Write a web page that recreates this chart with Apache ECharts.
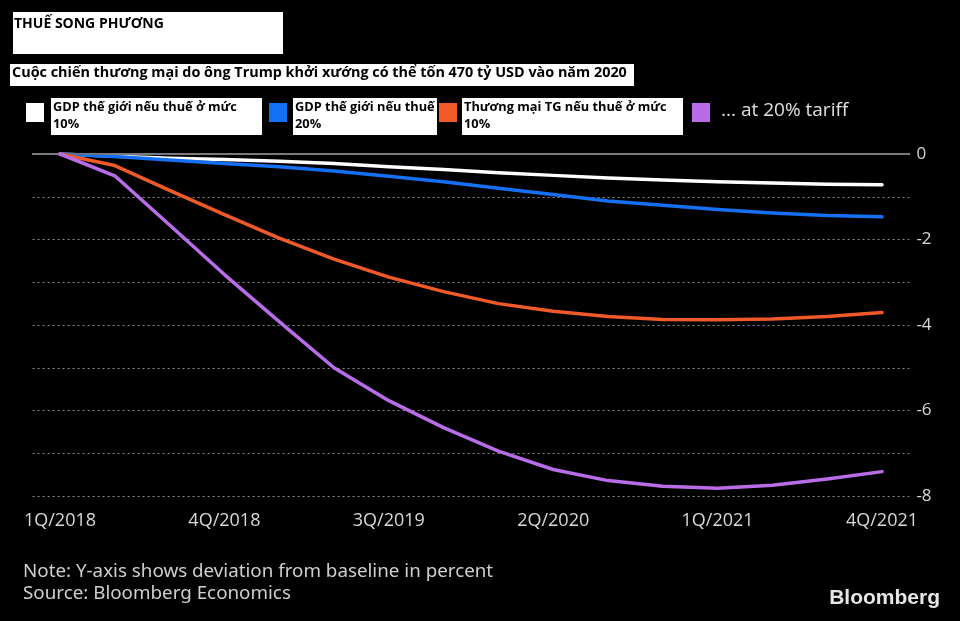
<!DOCTYPE html>
<html>
<head>
<meta charset="utf-8">
<script src="https://cdn.jsdelivr.net/npm/echarts@6/dist/echarts.min.js"></script>
<style>
html,body{margin:0;padding:0;background:#000;}
#chart{width:960px;height:621px;}
</style>
</head>
<body>
<div id="chart"></div>
<script>
const categories = ['1Q/2018','2Q/2018','3Q/2018','4Q/2018','1Q/2019','2Q/2019','3Q/2019','4Q/2019','1Q/2020','2Q/2020','3Q/2020','4Q/2020','1Q/2021','2Q/2021','3Q/2021','4Q/2021'];
const gdp10 = [0, -0.05, -0.1, -0.13, -0.17, -0.22, -0.3, -0.36, -0.44, -0.5, -0.56, -0.61, -0.65, -0.68, -0.71, -0.72];
const gdp20 = [0, -0.06, -0.14, -0.22, -0.3, -0.4, -0.52, -0.65, -0.8, -0.95, -1.1, -1.2, -1.3, -1.38, -1.44, -1.47];
const trade10 = [0, -0.27, -0.85, -1.42, -1.97, -2.46, -2.88, -3.22, -3.5, -3.68, -3.8, -3.87, -3.88, -3.86, -3.8, -3.71];
const trade20 = [0, -0.51, -1.66, -2.82, -3.92, -5.0, -5.77, -6.4, -6.95, -7.38, -7.64, -7.77, -7.82, -7.75, -7.6, -7.43];
const seriesNames = ['GDP thế giới nếu thuế ở mức\n10%', 'GDP thế giới nếu thuế\n20%', 'Thương mại TG nếu thuế ở mức\n10%', '... at 20% tariff'];
const colors = ['#ffffff', '#1470f5', '#f05a28', '#b96ce8'];
const yTicks = [0, -2, -4, -6, -8];
const titleText = 'THUẾ SONG PHƯƠNG';
const subtitleText = 'Cuộc chiến thương mại do ông Trump khởi xướng có thể tốn 470 tỷ USD vào năm 2020';
const noteText = 'Note: Y-axis shows deviation from baseline in percent';
const sourceText = 'Source: Bloomberg Economics';

const chart = echarts.init(document.getElementById('chart'));
const values = [gdp10, gdp20, trade10, trade20];

const boldFont = '"Open Sans", "Noto Sans", sans-serif';
const legendBoxes = [
  {sq: 26, bx: 51, bw: 211},
  {sq: 269, bx: 293, bw: 144},
  {sq: 439, bx: 462, bw: 221},
  {sq: 692, bx: null}
];
const graphic = [
  {type:'rect', left:13, top:12, shape:{width:270, height:42}, style:{fill:'#fff'}},
  {type:'text', left:14, top:17, style:{text:titleText, fill:'#000', font:'bold 14px ' + boldFont}},
  {type:'rect', left:10, top:64, shape:{width:624, height:22}, style:{fill:'#fff'}},
  {type:'text', left:12, top:66, style:{text:subtitleText, fill:'#000', font:'bold 14.4px ' + boldFont}},
  {type:'text', left:23, top:561, style:{text:noteText + '\n' + sourceText, fill:'#cfcfcf', font:'18.8px "Noto Sans", sans-serif', lineHeight:22}},
  {type:'text', right:20, top:588, style:{text:'Bloomberg', fill:'#e6e6e6', font:'bold 21px "Liberation Sans", Arial, sans-serif'}}
];
legendBoxes.forEach((b, i) => {
  graphic.push({type:'rect', left:b.sq, top:103, shape:{width:18, height:19}, style:{fill:colors[i]}});
  if (b.bx !== null) {
    graphic.push({type:'rect', left:b.bx, top:98, shape:{width:b.bw, height:37}, style:{fill:'#fff'}});
    graphic.push({type:'text', left:b.bx + 2, top:99, style:{text:seriesNames[i], fill:'#000', font:'bold 12.8px ' + boldFont, lineHeight:17}});
  } else {
    graphic.push({type:'text', left:721, top:101, style:{text:seriesNames[i], fill:'#e0e0e0', font:'19px "Open Sans", sans-serif'}});
  }
});

chart.setOption({
  backgroundColor:'#000',
  animation:false,
  grid:{left:32.6, right:50.6, top:154, height:342, containLabel:false},
  xAxis:{
    type:'category', data:categories, boundaryGap:true,
    axisLine:{lineStyle:{color:'#cccccc', width:1.5}},
    axisTick:{alignWithLabel:true, interval:2, length:7, lineStyle:{color:'#cccccc', width:1.5}},
    axisLabel:{interval:2, color:'#d8d8d8', fontSize:18, margin:16, fontFamily:'"Open Sans", sans-serif'},
    splitLine:{show:false}
  },
  yAxis:{
    type:'value', position:'right', min:-8, max:0, interval:1,
    axisLine:{show:false}, axisTick:{show:false},
    axisLabel:{color:'#d8d8d8', fontSize:17, margin:7, fontFamily:'"Open Sans", sans-serif',
      formatter:v => yTicks.includes(v) ? String(v) : ''},
    splitLine:{lineStyle:{color:'#8a8a8a', type:[2,3], width:1}}
  },
  graphic: graphic,
  series: values.map((d, i) => ({
    name: seriesNames[i], type:'line', data:d, smooth:false, symbol:'none',
    lineStyle:{color:colors[i], width:3.5, cap:'round', join:'round'},
    z: 3 + i,
    markLine: i === 0 ? {silent:true, symbol:'none', label:{show:false},
      lineStyle:{color:'#6e6e6e', type:'solid', width:1.5}, data:[{yAxis:0}]} : undefined
  }))
});
</script>
</body>
</html>
